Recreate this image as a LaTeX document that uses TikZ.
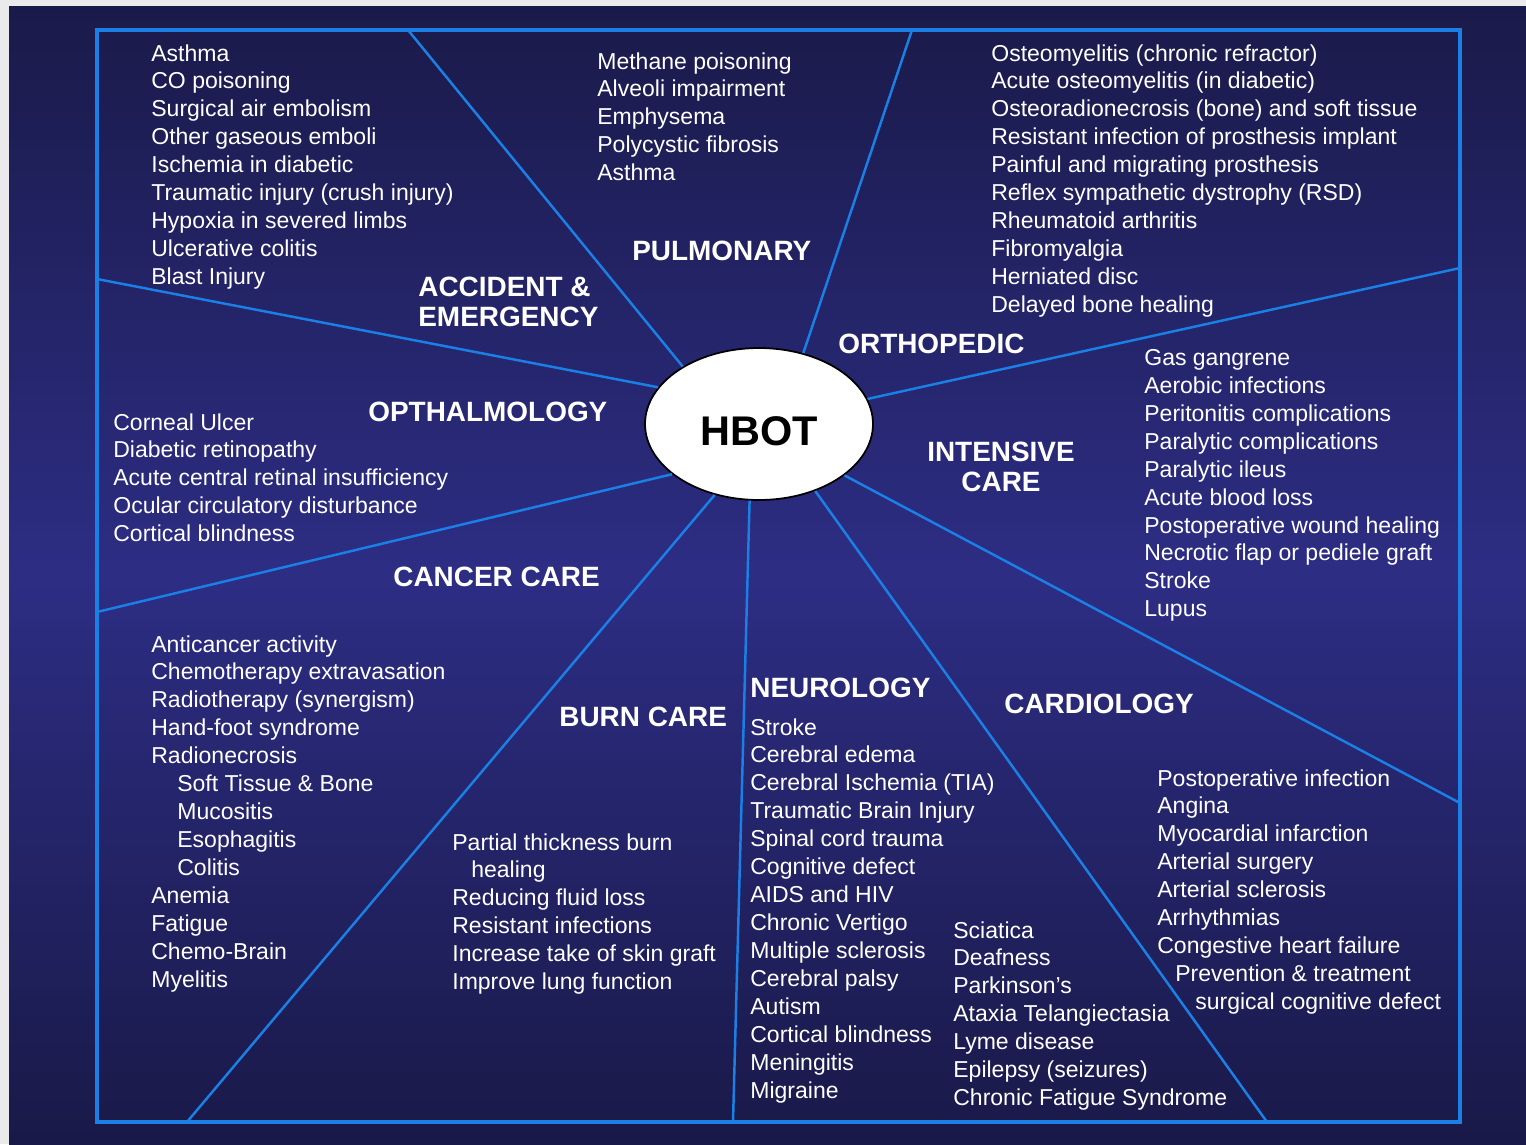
\documentclass[tikz,border=0pt]{standalone}
\usepackage{fontspec}
\setmainfont{Liberation Sans}
\usetikzlibrary{shapes.geometric}
\definecolor{navytop}{RGB}{26,26,74}
\definecolor{navymid}{RGB}{45,45,132}
\definecolor{navybot}{RGB}{25,25,72}
\definecolor{spokeblue}{RGB}{26,128,230}
\definecolor{paper}{RGB}{234,234,236}
\begin{document}
\begin{tikzpicture}[
    x=0.02cm, y=-0.02cm,
    list/.style={anchor=north west, inner sep=0pt, align=left, text=white, font=\fontsize{13.1}{15.9}\selectfont},
    head/.style={inner sep=0pt, text=white, font=\bfseries\fontsize{15.9}{17}\selectfont},
    spoke/.style={draw=spokeblue, line width=1.4pt},
    core/.style={ellipse, draw=black, fill=white, line width=1pt, minimum width=4.56cm, minimum height=3.04cm, inner sep=0pt, text height=25pt, text depth=0pt, font=\bfseries\fontsize{23.6}{28}\selectfont}
]

% Background
\fill[paper] (0,0) rectangle (1526,1144);
\shade[top color=navytop, bottom color=navybot, middle color=navymid] (9,6) rectangle (1526,1144);
\useasboundingbox (0,0) rectangle (1526,1144);

% Frame
\draw[spokeblue, line width=2pt] (97,30) rectangle (1460,1122);

% Centre
\node[core] (hbot) at (759,424) {HBOT};

% Spokes
\foreach \n/\x/\y in {1/408/30, 2/912/30, 3/1460/268, 4/1460/803, 5/1267/1122, 6/733/1122, 7/187/1122, 8/97/612, 9/97/279}
    \coordinate (rim\n) at (\x,\y);
\foreach \n/\a in {1/143, 2/58, 3/13, 4/329, 5/310, 6/263, 7/238, 8/210, 9/160}
    \draw[spoke] (hbot.\a) -- (rim\n);

% Accident & emergency
\node[list] (accl) at (151,44) {Asthma\\CO poisoning\\Surgical air embolism\\Other gaseous emboli\\Ischemia in diabetic\\Traumatic injury (crush injury)\\Hypoxia in severed limbs\\Ulcerative colitis\\Blast Injury};
\node[head, anchor=north west, align=left] (acch) at (418,277) {ACCIDENT \&\\EMERGENCY};

% Pulmonary
\node[list] (pull) at (597,52) {Methane poisoning\\Alveoli impairment\\Emphysema\\Polycystic fibrosis\\Asthma};
\node[head, anchor=west] (pulh) at (632,251) {PULMONARY};

% Orthopedic
\node[list] (ortl) at (991,44) {Osteomyelitis (chronic refractor)\\Acute osteomyelitis (in diabetic)\\Osteoradionecrosis (bone) and soft tissue\\Resistant infection of prosthesis implant\\Painful and migrating prosthesis\\Reflex sympathetic dystrophy (RSD)\\Rheumatoid arthritis\\Fibromyalgia\\Herniated disc\\Delayed bone healing};
\node[head, anchor=west] (orth) at (838,344) {ORTHOPEDIC};

% Intensive care
\node[list] (intl) at (1144,349) {Gas gangrene\\Aerobic infections\\Peritonitis complications\\Paralytic complications\\Paralytic ileus\\Acute blood loss\\Postoperative wound healing\\Necrotic flap or pediele graft\\Stroke\\Lupus};
\node[head, anchor=north, align=center] (inth) at (1001,442) {INTENSIVE\\CARE};

% Opthalmology
\node[list] (optl) at (113,413) {Corneal Ulcer\\Diabetic retinopathy\\Acute central retinal insufficiency\\Ocular circulatory disturbance\\Cortical blindness};
\node[head, anchor=west] (opth) at (368,412) {OPTHALMOLOGY};

% Cancer care
\node[head, anchor=west] (canh) at (393,577) {CANCER CARE};
\node[list] (canl) at (151,635) {Anticancer activity\\Chemotherapy extravasation\\Radiotherapy (synergism)\\Hand-foot syndrome\\Radionecrosis\\\hspace*{0.52cm}Soft Tissue \& Bone\\\hspace*{0.52cm}Mucositis\\\hspace*{0.52cm}Esophagitis\\\hspace*{0.52cm}Colitis\\Anemia\\Fatigue\\Chemo-Brain\\Myelitis};

% Burn care
\node[head, anchor=west] (burh) at (559,717) {BURN CARE};
\node[list] (burl) at (452,833) {Partial thickness burn\\\hspace*{0.38cm}healing\\Reducing fluid loss\\Resistant infections\\Increase take of skin graft\\Improve lung function};

% Neurology
\node[head, anchor=west] (neuh) at (750,688) {NEUROLOGY};
\node[list] (neul) at (750,718) {Stroke\\Cerebral edema\\Cerebral Ischemia (TIA)\\Traumatic Brain Injury\\Spinal cord trauma\\Cognitive defect\\AIDS and HIV\\Chronic Vertigo\\Multiple sclerosis\\Cerebral palsy\\Autism\\Cortical blindness\\Meningitis\\Migraine};
\node[list] (neur) at (953,921) {Sciatica\\Deafness\\Parkinson's\\Ataxia Telangiectasia\\Lyme disease\\Epilepsy (seizures)\\Chronic Fatigue Syndrome};

% Cardiology
\node[head, anchor=west] (carh) at (1004,704) {CARDIOLOGY};
\node[list] (carl) at (1157,769) {Postoperative infection\\Angina\\Myocardial infarction\\Arterial surgery\\Arterial sclerosis\\Arrhythmias\\Congestive heart failure\\\hspace*{0.36cm}Prevention \& treatment\\\hspace*{0.76cm}surgical cognitive defect};

\end{tikzpicture}
\end{document}
